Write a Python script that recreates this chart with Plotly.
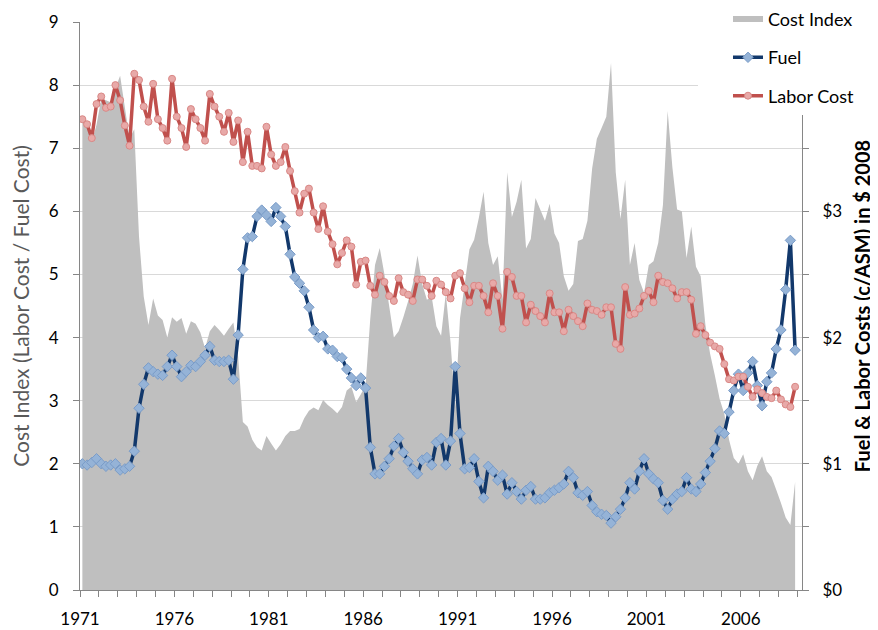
import plotly.graph_objects as go

# ---- data (quarterly, 1971Q1 .. 2008Q4) ----
start_year = 1971
n_quarters = 152
quarters = [f"{start_year + k // 4}Q{k % 4 + 1}" for k in range(n_quarters)]

cost_index = [7.45,7.42,7.10,7.37,7.78,7.76,7.73,7.95,8.15,7.65,
 7.15,7.30,5.60,4.65,4.20,4.62,4.35,4.28,4.00,4.32,
 4.25,4.31,4.06,4.26,4.22,4.08,3.83,4.10,4.20,4.12,
 4.03,4.14,4.24,3.70,2.66,2.59,2.38,2.26,2.21,2.44,
 2.32,2.21,2.31,2.44,2.52,2.52,2.55,2.72,2.84,2.89,
 2.85,3.01,2.93,2.87,2.80,2.90,3.16,3.22,2.98,3.10,
 3.24,4.30,5.15,5.42,5.00,4.50,4.00,4.10,4.32,4.57,
 4.85,5.30,4.85,4.60,4.65,4.18,4.03,4.70,3.92,2.90,
 4.30,4.85,5.40,5.55,5.90,6.31,5.50,5.15,5.29,4.60,
 6.62,5.91,6.15,6.50,5.41,5.56,6.21,6.03,5.85,6.12,
 5.65,5.50,4.97,4.74,4.85,5.53,5.56,5.85,6.68,7.15,
 7.32,7.50,8.35,6.62,5.88,6.50,5.15,5.50,4.91,4.71,
 5.15,5.21,5.50,6.10,7.59,6.70,6.03,6.00,5.26,5.76,
 5.12,4.97,4.20,3.74,3.40,3.03,2.79,2.38,2.09,2.00,
 2.15,1.88,1.74,1.97,2.12,1.88,1.79,1.59,1.38,1.15,
 1.03,1.71]

fuel = [1.00,0.99,1.01,1.04,1.00,0.98,0.99,1.00,0.95,0.96,
 0.98,1.10,1.44,1.63,1.76,1.73,1.71,1.70,1.77,1.86,
 1.77,1.69,1.73,1.78,1.77,1.81,1.86,1.93,1.82,1.81,
 1.81,1.82,1.67,2.02,2.54,2.79,2.80,2.96,3.01,2.97,
 2.92,3.03,2.96,2.88,2.66,2.48,2.43,2.37,2.24,2.06,
 2.00,2.01,1.91,1.90,1.85,1.84,1.75,1.68,1.62,1.68,
 1.60,1.13,0.92,0.92,0.98,1.04,1.14,1.20,1.09,1.02,
 0.96,0.92,1.03,1.05,0.99,1.17,1.20,0.99,1.18,1.77,
 1.24,0.96,0.97,1.04,0.86,0.73,0.98,0.94,0.87,0.91,
 0.76,0.85,0.78,0.72,0.79,0.82,0.72,0.72,0.73,0.77,
 0.79,0.81,0.84,0.94,0.89,0.77,0.75,0.78,0.67,0.62,
 0.60,0.59,0.53,0.58,0.64,0.73,0.85,0.80,0.94,1.04,
 0.92,0.88,0.85,0.71,0.64,0.72,0.76,0.78,0.89,0.80,
 0.78,0.84,0.93,1.02,1.12,1.26,1.24,1.41,1.58,1.71,
 1.58,1.72,1.81,1.62,1.46,1.65,1.72,1.91,2.06,2.38,
 2.77,1.90]

labor_cost = [3.73,3.69,3.58,3.85,3.91,3.82,3.83,4.00,3.88,3.68,
 3.52,4.09,4.04,3.83,3.71,4.01,3.73,3.66,3.56,4.05,
 3.75,3.66,3.51,3.81,3.73,3.66,3.56,3.93,3.83,3.75,
 3.63,3.78,3.55,3.72,3.39,3.63,3.36,3.36,3.34,3.67,
 3.45,3.36,3.39,3.51,3.32,3.16,2.99,3.14,3.18,2.99,
 2.86,3.04,2.84,2.74,2.58,2.67,2.77,2.72,2.42,2.60,
 2.61,2.41,2.34,2.49,2.44,2.33,2.29,2.47,2.36,2.34,
 2.29,2.46,2.46,2.41,2.33,2.45,2.42,2.36,2.31,2.49,
 2.51,2.39,2.28,2.41,2.41,2.33,2.20,2.43,2.33,2.07,
 2.52,2.48,2.33,2.33,2.12,2.26,2.21,2.17,2.12,2.35,
 2.20,2.20,2.05,2.22,2.17,2.13,2.09,2.27,2.22,2.21,
 2.18,2.24,2.24,1.95,1.91,2.40,2.18,2.19,2.23,2.33,
 2.37,2.28,2.49,2.44,2.43,2.39,2.31,2.36,2.36,2.30,
 2.03,2.09,2.02,1.96,1.93,1.91,1.79,1.67,1.66,1.69,
 1.69,1.61,1.53,1.59,1.56,1.53,1.52,1.58,1.51,1.47,
 1.45,1.61]

year_tick_labels = ["1971", "1976", "1981", "1986", "1991", "1996", "2001", "2006"]
usd_tick_labels = ["$0", "$1", "$2", "$3"]

# quarter label -> position on a continuous year axis (centre of each quarter)
def qpos(label):
    y, q = label.split("Q")
    return int(y) + (int(q) - 0.5) / 4.0

xpos = [qpos(q) for q in quarters]

FONT = "Lato"
AXIS_GREY = "#868686"

fig = go.Figure()
fig.add_trace(go.Scatter(
    x=xpos, y=cost_index, name="Cost Index", yaxis="y",
    mode="none", fill="tozeroy", fillcolor="#bfbfbf",
    legendgroup="a", hoverinfo="x+y"))
fig.add_trace(go.Scatter(
    x=xpos, y=fuel, name="Fuel", yaxis="y2",
    mode="lines+markers",
    line=dict(color="#12386b", width=3.5),
    marker=dict(symbol="diamond", size=8, color="#95b3d7",
                line=dict(color="#7a9cc8", width=1)),
    legendgroup="b"))
fig.add_trace(go.Scatter(
    x=xpos, y=labor_cost, name="Labor Cost", yaxis="y2",
    mode="lines+markers",
    line=dict(color="#c0504d", width=3.5),
    marker=dict(symbol="circle", size=7, color="#e8a9a8",
                line=dict(color="#d98886", width=1)),
    legendgroup="c"))

tickvals = [int(t) for t in year_tick_labels]
usd_vals = [float(t.strip("$")) for t in usd_tick_labels]

# the page body has an 8px margin, so the figure is 8px smaller than the window
fig.update_layout(
    width=870, height=622,
    margin=dict(l=72, r=76, t=14, b=40, autoexpand=False),
    paper_bgcolor="white", plot_bgcolor="white",
    font=dict(family=FONT, size=17, color="black"),
    showlegend=True,
    legend=dict(x=0.8975, y=1.0375, xanchor="left", yanchor="top",
                bgcolor="rgba(0,0,0,0)", traceorder="grouped",
                tracegroupgap=12, font=dict(size=18, family=FONT),
                itemwidth=30),
    xaxis=dict(range=[1971, 2009.24], tickmode="array",
               tickvals=tickvals, ticktext=year_tick_labels,
               showgrid=False, zeroline=False,
               showline=True, linecolor=AXIS_GREY, linewidth=1,
               ticks="outside", ticklen=6, tickcolor=AXIS_GREY,
               minor=dict(tickmode="linear", tick0=1971, dtick=1,
                          ticks="outside", ticklen=6, tickcolor=AXIS_GREY),
               ticklabelstandoff=8,
               tickfont=dict(size=17, family=FONT, color="black")),
    yaxis=dict(range=[0, 9], dtick=1, tick0=0,
               showgrid=True, gridcolor="#d9d9d9", gridwidth=1,
               zeroline=False, showline=True, linecolor=AXIS_GREY,
               ticks="outside", ticklen=6, tickcolor=AXIS_GREY,
               ticklabelstandoff=11,
               tickfont=dict(size=17, family=FONT, color="black"),
               title=dict(text="Cost Index (Labor Cost / Fuel Cost)",
                          font=dict(size=21, family=FONT, color="#595959"),
                          standoff=13)),
    yaxis2=dict(range=[0, 4.5], overlaying="y", side="right",
                tickmode="array", tickvals=usd_vals, ticktext=usd_tick_labels,
                showgrid=False, zeroline=False,
                showline=True, linecolor=AXIS_GREY,
                ticks="outside", ticklen=6, tickcolor=AXIS_GREY,
                minor=dict(tickmode="linear", tick0=0, dtick=0.5,
                           ticks="outside", ticklen=6, tickcolor=AXIS_GREY),
                ticklabelstandoff=10,
                tickfont=dict(size=17, family=FONT, color="black"),
                title=dict(text="<b>Fuel & Labor Costs (c/ASM) in $ 2008</b>",
                           font=dict(size=20, family=FONT, color="black"),
                           standoff=14)),
    shapes=[dict(type="rect", xref="paper", yref="paper",
                 x0=(698 - 80) / 722, x1=(852 - 80) / 722,
                 y0=(590 - 115) / 568, y1=(590 + 0) / 568,
                 fillcolor="white", line=dict(width=0), layer="above")],
)

fig.write_html("out.html")
